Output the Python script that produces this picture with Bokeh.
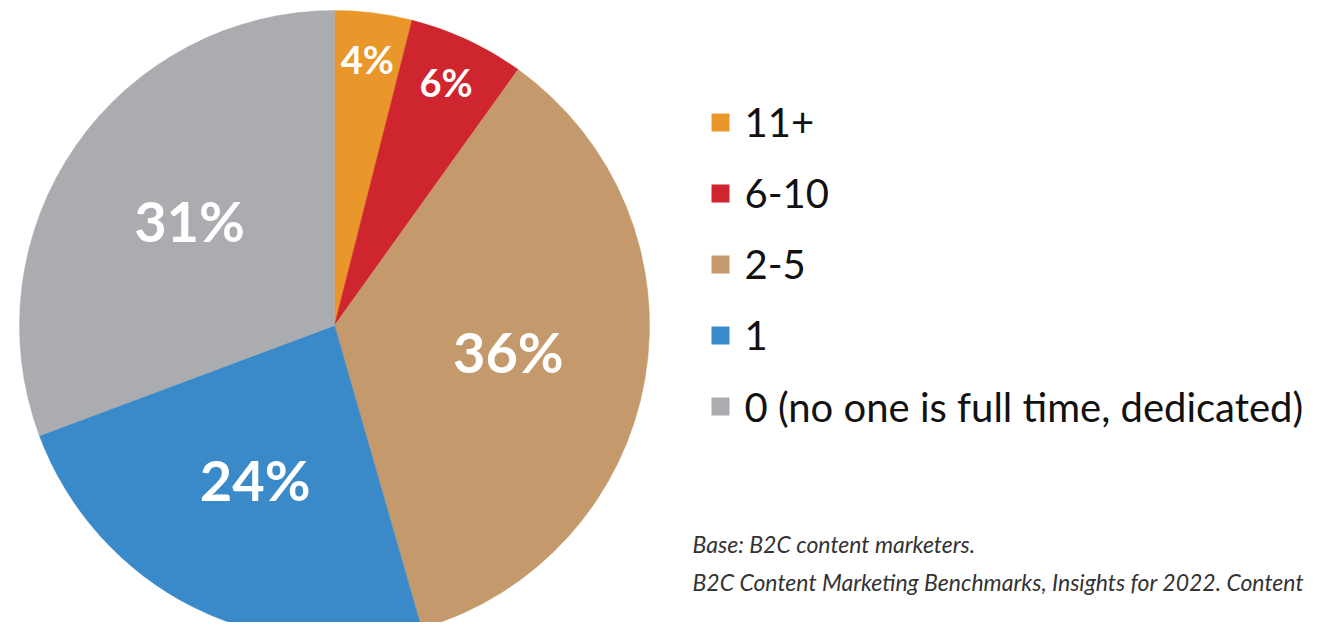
import math
from bokeh.plotting import figure
from bokeh.models import Range1d, ColumnDataSource
from bokeh.core.properties import value
from bokeh.embed import file_html
from bokeh.resources import INLINE

categories = ["11+", "6-10", "2-5", "1", "0 (no one is full time, dedicated)"]
shares = [4, 6, 36, 24, 31]
labels = ["4%", "6%", "36%", "24%", "31%"]
colors = ["#E9972A", "#CF252E", "#C4996B", "#3A89C8", "#ABACB0"]
notes = ["Base: B2C content marketers.",
         "B2C Content Marketing Benchmarks, Insights for 2022. Content"]

W, H = 1326, 622
p = figure(width=W, height=H, output_backend="svg", toolbar_location=None,
           x_range=Range1d(0, W), y_range=Range1d(638 - H, 638),
           min_border=0)
p.axis.visible = False
p.grid.visible = False
p.outline_line_color = None

# picture coordinates -> data: x same, y = 638 - pic_y
cx, cy, R = 334, 638 - 325, 315
total = sum(shares)
starts, ends, lx, ly, lsize = [], [], [], [], []
cum = 0.0
for s in shares:
    a0 = cum / total * 2 * math.pi
    cum += s
    a1 = cum / total * 2 * math.pi
    starts.append(math.pi / 2 - a0)
    ends.append(math.pi / 2 - a1)
    mid = (a0 + a1) / 2
    f = 0.84 if s < 10 else 0.56
    lx.append(cx + f * R * math.sin(mid))
    ly.append(cy + f * R * math.cos(mid) + 4)
    lsize.append("38px" if s < 10 else "56px")

src = ColumnDataSource(dict(start=starts, end=ends, color=colors,
                            lx=lx, ly=ly, label=labels, size=lsize))
p.wedge(x=cx, y=cy, radius=R, start_angle="start", end_angle="end",
        direction="clock", fill_color="color", line_color="color",
        line_width=0.5, source=src)
p.text(x="lx", y="ly", text="label", text_font_size="size", source=src,
       text_color="white", text_font=value("Lato"), text_font_style="bold",
       text_align="center", text_baseline="middle")

# legend
leg_y = [638 - (122 + i * 71) for i in range(len(categories))]
leg = ColumnDataSource(dict(y=leg_y, cat=categories, color=colors))
p.scatter(x=720, y="y", marker="square", size=18, fill_color="color",
          line_color=None, source=leg)
p.text(x=744, y="y", text="cat", source=leg, text_font=value("Lato"),
       text_font_size="40px", text_color="#111111", text_baseline="middle")

# footnote
fn = ColumnDataSource(dict(y=[638 - 543, 638 - 581], t=notes))
p.text(x=692, y="y", text="t", source=fn, text_font=value("Lato"),
       text_font_style="italic", text_font_size="23px", text_color="#333333",
       text_baseline="middle")

open("out.html", "w").write(file_html(p, INLINE))
